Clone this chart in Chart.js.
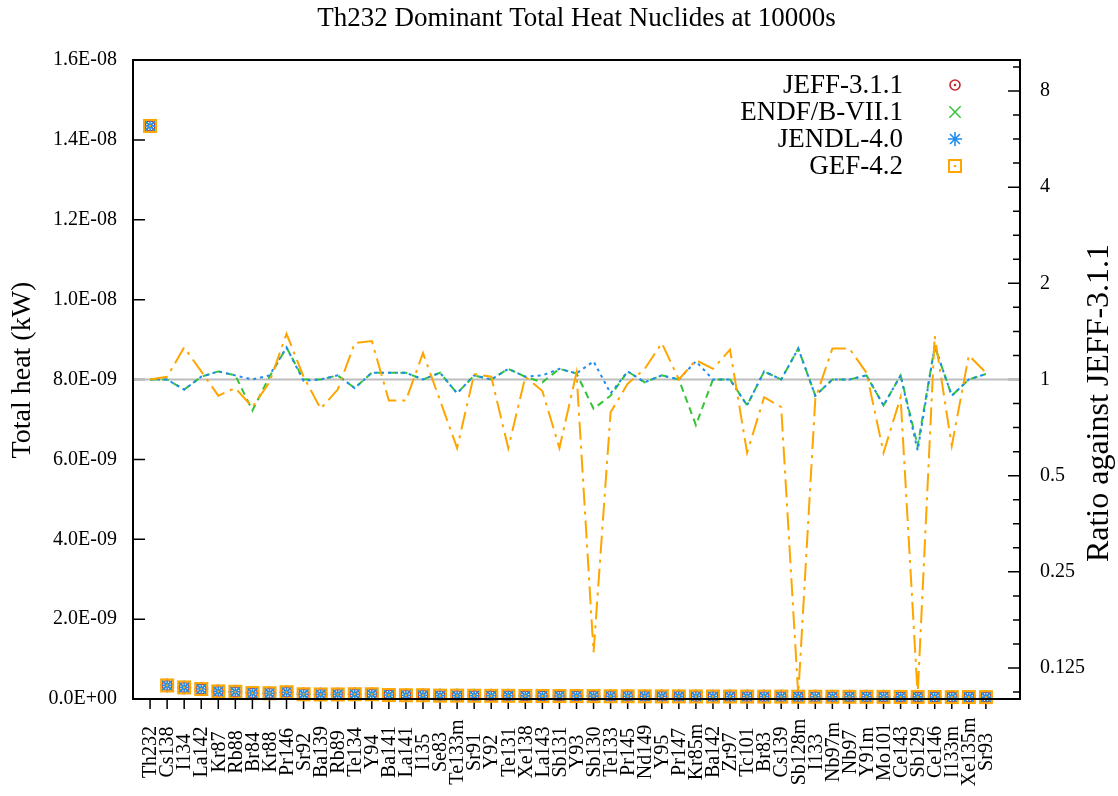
<!DOCTYPE html>
<html>
<head>
<meta charset="utf-8">
<script src="https://cdn.jsdelivr.net/npm/chart.js@4.4.1/dist/chart.umd.min.js"></script>
<style>
html,body{margin:0;padding:0;background:#fff;}
#wrap{width:1118px;height:796px;position:relative;}
canvas{display:block;}
</style>
</head>
<body>
<div id="wrap"><canvas id="c" width="1118" height="796"></canvas></div>
<script>
// ---------------- data ----------------
const nuclides = ['Th232','Cs138','I134','La142','Kr87','Rb88','Br84','Kr88','Pr146','Sr92',
  'Ba139','Rb89','Te134','Y94','Ba141','La141','I135','Se83','Te133m','Sr91',
  'Y92','Te131','Xe138','La143','Sb131','Y93','Sb130','Te133','Pr145','Nd149',
  'Y95','Pr147','Kr85m','Ba142','Zr97','Tc101','Br83','Cs139','Sb128m','I133',
  'Nb97m','Nb97','Y91m','Mo101','Ce143','Sb129','Ce146','I133m','Xe135m','Sr93'];

// total heat (kW), left axis
const jeffHeat = [1.435E-8, 3.4E-10, 2.9E-10, 2.5E-10, 1.9E-10, 1.8E-10, 1.5E-10, 1.45E-10, 1.7E-10, 1.2E-10,
  1.15E-10, 1.15E-10, 1.2E-10, 1.2E-10, 1.0E-10, 0.95E-10, 0.95E-10, 0.85E-10, 0.85E-10, 0.82E-10,
  0.8E-10, 0.8E-10, 0.78E-10, 0.76E-10, 0.75E-10, 0.74E-10, 0.72E-10, 0.7E-10, 0.7E-10, 0.68E-10,
  0.67E-10, 0.66E-10, 0.65E-10, 0.64E-10, 0.63E-10, 0.62E-10, 0.61E-10, 0.6E-10, 0.59E-10, 0.58E-10,
  0.57E-10, 0.56E-10, 0.55E-10, 0.54E-10, 0.53E-10, 0.52E-10, 0.51E-10, 0.5E-10, 0.49E-10, 0.48E-10];
const endfHeat = [1.435E-8, 3.4E-10, 2.9E-10, 2.5E-10, 1.9E-10, 1.8E-10, 1.5E-10, 1.45E-10, 1.7E-10, 1.2E-10,
  1.15E-10, 1.15E-10, 1.2E-10, 1.2E-10, 1.0E-10, 0.95E-10, 0.95E-10, 0.85E-10, 0.85E-10, 0.82E-10,
  0.8E-10, 0.8E-10, 0.78E-10, 0.76E-10, 0.75E-10, 0.74E-10, 0.72E-10, 0.7E-10, 0.7E-10, 0.68E-10,
  0.67E-10, 0.66E-10, 0.65E-10, 0.64E-10, 0.63E-10, 0.62E-10, 0.61E-10, 0.6E-10, 0.59E-10, 0.58E-10,
  0.57E-10, 0.56E-10, 0.55E-10, 0.54E-10, 0.53E-10, 0.52E-10, 0.51E-10, 0.5E-10, 0.49E-10, 0.48E-10];
const jendlHeat = [1.435E-8, 3.4E-10, 2.9E-10, 2.5E-10, 1.9E-10, 1.8E-10, 1.5E-10, 1.45E-10, 1.7E-10, 1.2E-10,
  1.15E-10, 1.15E-10, 1.2E-10, 1.2E-10, 1.0E-10, 0.95E-10, 0.95E-10, 0.85E-10, 0.85E-10, 0.82E-10,
  0.8E-10, 0.8E-10, 0.78E-10, 0.76E-10, 0.75E-10, 0.74E-10, 0.72E-10, 0.7E-10, 0.7E-10, 0.68E-10,
  0.67E-10, 0.66E-10, 0.65E-10, 0.64E-10, 0.63E-10, 0.62E-10, 0.61E-10, 0.6E-10, 0.59E-10, 0.58E-10,
  0.57E-10, 0.56E-10, 0.55E-10, 0.54E-10, 0.53E-10, 0.52E-10, 0.51E-10, 0.5E-10, 0.49E-10, 0.48E-10];
const gefHeat = [1.435E-8, 3.4E-10, 2.9E-10, 2.5E-10, 1.9E-10, 1.8E-10, 1.5E-10, 1.45E-10, 1.7E-10, 1.2E-10,
  1.15E-10, 1.15E-10, 1.2E-10, 1.2E-10, 1.0E-10, 0.95E-10, 0.95E-10, 0.85E-10, 0.85E-10, 0.82E-10,
  0.8E-10, 0.8E-10, 0.78E-10, 0.76E-10, 0.75E-10, 0.74E-10, 0.72E-10, 0.7E-10, 0.7E-10, 0.68E-10,
  0.67E-10, 0.66E-10, 0.65E-10, 0.64E-10, 0.63E-10, 0.62E-10, 0.61E-10, 0.6E-10, 0.59E-10, 0.58E-10,
  0.57E-10, 0.56E-10, 0.55E-10, 0.54E-10, 0.53E-10, 0.52E-10, 0.51E-10, 0.5E-10, 0.49E-10, 0.48E-10];

// ratios against JEFF-3.1.1, right axis
const endfRatio = [1.0, 1.0, 0.93, 1.02, 1.06, 1.03, 0.80, 1.02, 1.26, 1.0,
  1.0, 1.03, 0.94, 1.05, 1.05, 1.05, 1.0, 1.05, 0.905, 1.03,
  1.0, 1.08, 1.02, 0.98, 1.08, 1.045, 0.81, 0.89, 1.06, 0.98,
  1.03, 1.0, 0.72, 1.0, 1.0, 0.83, 1.06, 1.0, 1.25, 0.89,
  1.0, 1.0, 1.03, 0.83, 1.03, 0.62, 1.27, 0.89, 1.0, 1.04];
const jendlRatio = [1.0, 1.0, 0.93, 1.02, 1.06, 1.03, 1.0, 1.03, 1.26, 0.99,
  1.0, 1.03, 0.94, 1.05, 1.05, 1.05, 1.0, 1.05, 0.905, 1.03,
  1.0, 1.08, 1.02, 1.03, 1.08, 1.045, 1.14, 0.905, 1.06, 0.98,
  1.03, 1.0, 1.14, 1.0, 1.0, 0.83, 1.06, 1.0, 1.25, 0.89,
  1.0, 1.0, 1.03, 0.83, 1.03, 0.60, 1.27, 0.89, 1.0, 1.04];
const gefRatio = [1.0, 1.02, 1.26, 1.06, 0.89, 0.94, 0.82, 0.98, 1.39, 1.02,
  0.81, 0.93, 1.30, 1.32, 0.86, 0.86, 1.21, 0.86, 0.61, 1.04,
  1.02, 0.61, 1.02, 0.92, 0.61, 1.05, 0.14, 0.79, 0.97, 1.08,
  1.30, 1.0, 1.15, 1.08, 1.24, 0.59, 0.88, 0.82, 0.103, 0.87,
  1.25, 1.25, 1.05, 0.59, 0.88, 0.103, 1.37, 0.62, 1.19, 1.05];
const unityRatio = [1, 1];

// ticks
const heatTicks = [0, 2E-9, 4E-9, 6E-9, 8E-9, 1.0E-8, 1.2E-8, 1.4E-8, 1.6E-8];
const heatTickLabels = ['0.0E+00','2.0E-09','4.0E-09','6.0E-09','8.0E-09','1.0E-08','1.2E-08','1.4E-08','1.6E-08'];
const ratioTicks = [0.125, 0.25, 0.5, 1, 2, 4, 8];
const ratioTickLabels = ['0.125','0.25','0.5','1','2','4','8'];

const seriesNames = ['JEFF-3.1.1','ENDF/B-VII.1','JENDL-4.0','GEF-4.2'];
const chartTitle = 'Th232 Dominant Total Heat Nuclides at 10000s';
const yTitle = 'Total heat (kW)';
const y2Title = 'Ratio against JEFF-3.1.1';

// ---------------- styles ----------------
const FONT = "'Liberation Serif', 'DejaVu Serif', serif";
const RED = '#c0282d', GREEN = '#33c433', BLUE = '#1e8cf0', ORANGE = '#ffa500', GRAY = '#bdbdbd';

function circleDot(color) {
  const c = document.createElement('canvas'); c.width = 16; c.height = 16;
  const g = c.getContext('2d');
  g.strokeStyle = color; g.lineWidth = 1.6;
  g.beginPath(); g.arc(8, 8, 5, 0, Math.PI * 2); g.stroke();
  g.fillStyle = color; g.beginPath(); g.arc(8, 8, 1.3, 0, Math.PI * 2); g.fill();
  return c;
}
function squareDot(color) {
  const c = document.createElement('canvas'); c.width = 18; c.height = 18;
  const g = c.getContext('2d');
  g.strokeStyle = color; g.lineWidth = 2;
  g.strokeRect(3, 3, 12, 12);
  g.fillStyle = color; g.beginPath(); g.arc(9, 9, 1.3, 0, Math.PI * 2); g.fill();
  return c;
}
const jeffStyle = circleDot(RED);
const gefStyle = squareDot(ORANGE);

const pts = arr => arr.map((v, i) => ({x: i, y: v}));

const datasets = [
  {label: seriesNames[3], data: pts(gefHeat), yAxisID: 'y', showLine: false, pointStyle: gefStyle,
   pointRadius: 7, borderColor: ORANGE, backgroundColor: ORANGE, order: 1, clip: false},
  {label: seriesNames[2], data: pts(jendlHeat), yAxisID: 'y', showLine: false, pointStyle: 'star',
   pointRadius: 7, pointBorderWidth: 1.6, borderColor: BLUE, backgroundColor: BLUE, order: 2, clip: false},
  {label: seriesNames[1], data: pts(endfHeat), yAxisID: 'y', showLine: false, pointStyle: 'crossRot',
   pointRadius: 8, pointBorderWidth: 1.5, borderColor: GREEN, backgroundColor: GREEN, order: 3, clip: false},
  {label: seriesNames[0], data: pts(jeffHeat), yAxisID: 'y', showLine: false, pointStyle: jeffStyle,
   pointRadius: 6, borderColor: RED, backgroundColor: RED, order: 4, clip: false},
  {label: 'GEF ratio', data: pts(gefRatio), yAxisID: 'y2', borderColor: ORANGE, borderWidth: 2,
   borderDash: [18, 6, 3, 6], pointRadius: 0, tension: 0, fill: false, order: 5},
  {label: 'JENDL ratio', data: pts(jendlRatio), yAxisID: 'y2', borderColor: BLUE, borderWidth: 2,
   borderDash: [3, 4], pointRadius: 0, tension: 0, fill: false, order: 6},
  {label: 'ENDF ratio', data: pts(endfRatio), yAxisID: 'y2', borderColor: GREEN, borderWidth: 2,
   borderDash: [7, 5], pointRadius: 0, tension: 0, fill: false, order: 7},
  {label: 'unity', data: [{x: -1, y: unityRatio[0]}, {x: 51, y: unityRatio[1]}], yAxisID: 'y2',
   borderColor: GRAY, borderWidth: 2, pointRadius: 0, fill: false, order: 8}
];
const legendDs = [3, 2, 1, 0]; // JEFF, ENDF, JENDL, GEF

function line(ctx, x1, y1, x2, y2) { ctx.moveTo(x1, y1); ctx.lineTo(x2, y2); }

const gnuplotLook = {
  id: 'gnuplotLook',
  beforeDatasetsDraw(chart) {
    const {ctx, chartArea: ca, scales} = chart;
    ctx.save();
    ctx.strokeStyle = '#000'; ctx.lineWidth = 1.5;
    ctx.beginPath();
    heatTicks.forEach(v => {
      const y = scales.y.getPixelForValue(v);
      line(ctx, ca.left, y, ca.left + 12, y);
    });
    scales.y2.ticks.forEach(t => {
      const y = scales.y2.getPixelForValue(t.value);
      const major = ratioTicks.some(r => Math.abs(r - t.value) < 1e-9);
      line(ctx, ca.right, y, ca.right - (major ? 12 : 7), y);
    });
    nuclides.forEach((n, i) => {
      const x = scales.x.getPixelForValue(i);
      line(ctx, x, ca.bottom, x, ca.bottom + 10);
    });
    ctx.stroke();
    ctx.restore();
  },
  afterDatasetsDraw(chart) {
    const {ctx, chartArea: ca} = chart;
    ctx.save();
    ctx.strokeStyle = '#000'; ctx.lineWidth = 2;
    ctx.strokeRect(ca.left, ca.top, ca.right - ca.left, ca.bottom - ca.top);
    ctx.restore();
  },
  afterDraw(chart) {
    const {ctx, chartArea: ca, scales} = chart;
    ctx.save();
    ctx.fillStyle = '#000';
    // category labels, rotated and centred
    ctx.font = '20px ' + FONT;
    ctx.textAlign = 'center'; ctx.textBaseline = 'middle';
    nuclides.forEach((n, i) => {
      const x = scales.x.getPixelForValue(i);
      ctx.save(); ctx.translate(x + 1, 752); ctx.rotate(-Math.PI / 2);
      ctx.fillText(n, 0, 0); ctx.restore();
    });
    // axis titles
    ctx.font = '28px ' + FONT;
    ctx.save(); ctx.translate(23, 370); ctx.rotate(-Math.PI / 2); ctx.fillText(yTitle, 0, 0); ctx.restore();
    ctx.font = '32px ' + FONT;
    ctx.save(); ctx.translate(1100, 403); ctx.rotate(-Math.PI / 2); ctx.fillText(y2Title, 0, 0); ctx.restore();
    // legend
    ctx.font = '27px ' + FONT;
    ctx.textAlign = 'right';
    legendDs.forEach((di, k) => {
      const ds = chart.data.datasets[di];
      const y = ca.top + 25 + 27 * k;
      ctx.fillStyle = '#000';
      ctx.fillText(ds.label, ca.right - 117, y + 1);
      ctx.strokeStyle = ds.borderColor; ctx.fillStyle = ds.backgroundColor;
      ctx.lineWidth = ds.pointBorderWidth || 1.5;
      const opts = {pointStyle: ds.pointStyle, radius: ds.pointRadius, rotation: 0, borderWidth: ds.pointBorderWidth || 1.5};
      if (Chart.helpers && Chart.helpers.drawPoint) {
        Chart.helpers.drawPoint(ctx, opts, ca.right - 65, y);
      } else if (ds.pointStyle instanceof HTMLCanvasElement) {
        ctx.drawImage(ds.pointStyle, ca.right - 65 - ds.pointStyle.width / 2, y - ds.pointStyle.height / 2);
      }
    });
    ctx.restore();
  }
};

new Chart(document.getElementById('c'), {
  type: 'line',
  data: {datasets},
  options: {
    responsive: false,
    animation: false,
    devicePixelRatio: 1,
    layout: {padding: 0},
    plugins: {
      legend: {display: false},
      tooltip: {enabled: false},
      title: {
        display: true, text: chartTitle, fullSize: false, color: '#000',
        font: {family: FONT, size: 27, weight: 'normal', lineHeight: 1.2},
        padding: {top: 3, bottom: 24.6}
      }
    },
    scales: {
      x: {
        type: 'linear', position: 'bottom', min: -1, max: 51,
        grid: {display: false}, border: {display: false},
        ticks: {display: false},
        afterBuildTicks: s => { s.ticks = nuclides.map((n, i) => ({value: i})); },
        afterFit: s => { s.height = 97; }
      },
      y: {
        type: 'linear', position: 'left', min: 0, max: 1.6E-8,
        grid: {display: false}, border: {display: false},
        afterBuildTicks: s => { s.ticks = heatTicks.map(v => ({value: v})); },
        ticks: {
          autoSkip: false, padding: 8, color: '#000',
          font: {family: FONT, size: 20},
          callback: (v, i) => heatTickLabels[i]
        },
        afterFit: s => { s.width = 133; }
      },
      y2: {
        type: 'logarithmic', position: 'right', min: 0.1, max: 10,
        grid: {display: false}, border: {display: false},
        afterBuildTicks: s => {
          const t = [];
          for (let k = -13; k <= 13; k++) t.push({value: Math.pow(2, k / 4)});
          s.ticks = t;
        },
        ticks: {
          autoSkip: false, padding: 12, color: '#000',
          font: {family: FONT, size: 20},
          callback: v => {
            const j = ratioTicks.findIndex(r => Math.abs(r - v) < 1e-9);
            return j >= 0 ? ratioTickLabels[j] : '';
          }
        },
        afterFit: s => { s.width = 98; }
      }
    }
  },
  plugins: [gnuplotLook]
});
</script>
</body>
</html>
